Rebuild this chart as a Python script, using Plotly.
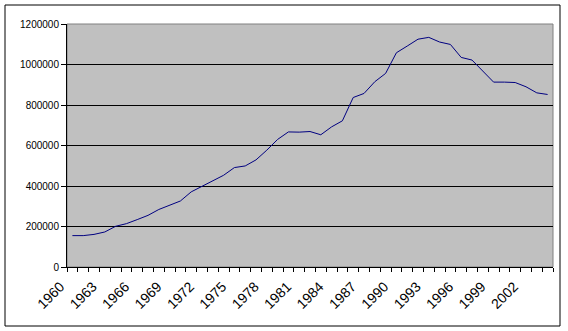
import plotly.graph_objects as go

years = list(range(1960, 2005))
values = [155000, 155000, 161000, 173000, 201000, 214000, 234000, 255000, 284000, 305000,
          326000, 371000, 399000, 424000, 453000, 491000, 499000, 529000, 577000, 630000,
          667000, 666000, 669000, 653000, 692000, 722000, 837000, 857000, 915000, 956000,
          1058000, 1091000, 1125000, 1134000, 1111000, 1099000, 1035000, 1022000, 969000, 913000,
          913000, 911000, 890000, 860000, 852000]
label_years = list(range(1960, 2005, 3))
y_ticks = [0, 200000, 400000, 600000, 800000, 1000000, 1200000]

fig = go.Figure()
fig.add_trace(go.Scatter(x=years, y=values, mode="lines",
                         line=dict(color="#000080", width=1), hoverinfo="skip"))

fig.update_layout(
    width=568, height=331,
    margin=dict(l=67, r=15, t=24, b=64),
    paper_bgcolor="white", plot_bgcolor="#C0C0C0",
    showlegend=False,
    font=dict(family="Liberation Sans, Arial, sans-serif", color="black"),
    xaxis=dict(range=[1959.5, 2004.5], tickvals=label_years,
               ticktext=[str(y) for y in label_years],
               tickangle=-45, ticks="", showgrid=False, automargin=False,
               ticklabelstandoff=5, ticklabelshift=-12,
               showline=True, linecolor="black", linewidth=1,
               tickfont=dict(size=14),
               minor=dict(ticks="outside", tick0=1959.5, dtick=1, ticklen=4,
                          tickcolor="black", showgrid=False),
               zeroline=False),
    yaxis=dict(range=[0, 1200000], tickvals=y_ticks,
               ticktext=[str(v) for v in y_ticks], automargin=False,
               ticks="outside", ticklen=5, tickcolor="black",
               showgrid=True, gridcolor="black", gridwidth=1,
               showline=True, linecolor="black", linewidth=1,
               tickfont=dict(size=10), zeroline=False),
    shapes=[
        dict(type="rect", xref="paper", yref="paper", x0=0, x1=1, y0=0, y1=1,
             line=dict(color="#808080", width=1), layer="below"),
        dict(type="rect", xref="paper", yref="paper",
             x0=(5 - 67) / 486, x1=(560 - 67) / 486,
             y0=(267 - 326) / 243, y1=(267 - 5) / 243,
             line=dict(color="black", width=1)),
    ],
)

fig.write_html("out.html", config={"displayModeBar": False},
               post_script="document.body.style.margin='0';")
